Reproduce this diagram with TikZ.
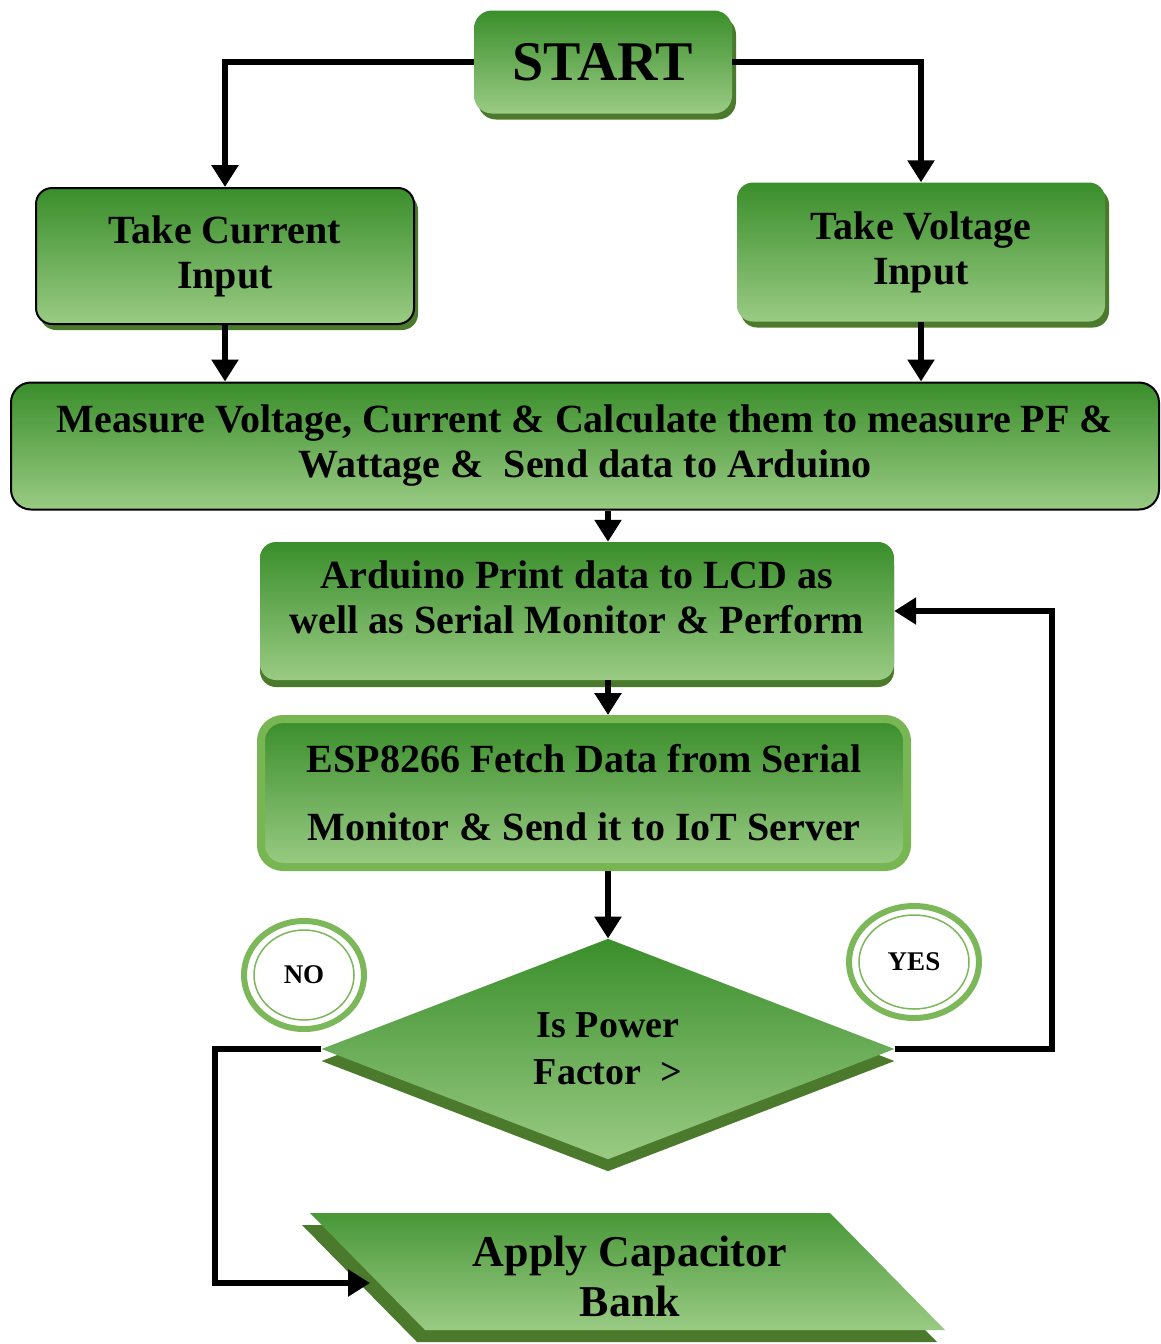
\documentclass[tikz,border=0pt]{standalone}
\usepackage{fontspec}
\setmainfont{Liberation Serif}
\usetikzlibrary{shapes.geometric,shadows,arrows.meta,calc}
\definecolor{gtop}{HTML}{3A8E2B}
\definecolor{gbot}{HTML}{9ACB84}
\definecolor{shg}{HTML}{4C7A2C}
\definecolor{espb}{HTML}{78B553}
\definecolor{ringg}{HTML}{7CB75A}
\begin{document}
\begin{tikzpicture}[x=1pt,y=-1pt,
  box/.style={rounded corners=16pt, top color=gtop, bottom color=gbot, inner sep=0pt, align=center,
    font=\bfseries\fontsize{40}{45}\selectfont},
  sh/.style={drop shadow={shadow xshift=4pt, shadow yshift=-6pt, fill=shg, opacity=1}},
  conn/.style={line width=6pt, draw=black},
  arr/.style={conn, -{Triangle[width=26pt,length=22pt]}},
  lbl/.style={ellipse, draw=ringg, line width=6pt, fill=white, inner sep=0pt,
    font=\bfseries\fontsize{27}{30}\selectfont}
]
\useasboundingbox (0,0) rectangle (1160,1344);

% nodes
\node[box, sh, minimum width=258, minimum height=103, rounded corners=18pt,
  font=\bfseries\fontsize{56}{60}\selectfont] (start) at (603,62) {START};
\node[box, sh, draw=black, line width=2pt, minimum width=378, minimum height=136] (tc) at (225,256)
  {Take Current\\Input};
\node[box, sh, minimum width=368, minimum height=139] (tv) at (921,252)
  {Take Voltage\\Input};
\node[box, draw=black, line width=2pt, minimum width=1148, minimum height=127, rounded corners=20pt] (meas) at (585,446)
  {Measure Voltage, Current \& Calculate them to measure PF \&\\Wattage \&\ \ Send data to Arduino};
\node[box, drop shadow={shadow xshift=0pt, shadow yshift=-7pt, fill=shg, opacity=1},
  minimum width=634, minimum height=138] (ard) at (577,611)
  {Arduino Print data to LCD as\\well as Serial Monitor \& Perform\\[-30pt]\strut};
\node[box, draw=espb, line width=8pt, minimum width=646, minimum height=148, rounded corners=22pt,
  font=\bfseries\fontsize{40}{68}\selectfont] (esp) at (584,793)
  {ESP8266 Fetch Data from Serial\\Monitor \& Send it to IoT Server};
\node[diamond, top color=gtop, bottom color=gbot, inner sep=0pt, minimum width=573, minimum height=214,
  drop shadow={shadow xshift=0pt, shadow yshift=-12pt, fill=shg, opacity=1},
  align=center, font=\bfseries\fontsize{38}{47}\selectfont] (dia) at (608,1049)
  {Is Power\\Factor~~\textgreater};

% parallelogram
\coordinate (p1) at (310,1213);
\coordinate (p2) at (830,1213);
\coordinate (p3) at (945,1330);
\coordinate (p4) at (425,1330);
\fill[shg] ($(p1)+(-8,12)$) -- ($(p2)+(-8,12)$) -- ($(p3)+(-8,12)$) -- ($(p4)+(-8,12)$) -- cycle;
\shade[top color=gtop!85!gbot, bottom color=gbot] (p1) -- (p2) -- (p3) -- (p4) -- cycle;
\node[align=center, font=\bfseries\fontsize{44}{50}\selectfont] (cap) at (630,1276) {Apply Capacitor\\Bank};
\coordinate (capin) at (370,1283);

% labels
\node[lbl, minimum width=120, minimum height=108] (no) at (304,975) {NO};
\draw[ringg, line width=1.5pt] (no.center) ellipse [x radius=50, y radius=45];
\node[lbl, minimum width=130, minimum height=112] (yes) at (914,962) {YES};
\draw[ringg, line width=1.5pt] (yes.center) ellipse [x radius=55, y radius=47];

% helper coordinates
\coordinate (axis) at (608,0);
\coordinate (loopc) at (1052,0);
\coordinate (noc) at (215,0);

% connectors
\draw[arr] (start.west) -| (tc.north);
\draw[arr] (start.east) -| (tv.north);
\draw[arr] (tc.south) -- (tc.south |- meas.north);
\draw[arr] (tv.south) -- (tv.south |- meas.north);
\draw[arr] (meas.south -| axis) -- (ard.north -| axis);
\draw[arr] (ard.south -| axis) -- (esp.north -| axis);
\draw[arr] (esp.south -| axis) -- (dia.north -| axis);
\draw[arr] (dia.east) -- (dia.east -| loopc) -- (ard.east -| loopc) -- (ard.east);
\draw[arr] (dia.west) -- (dia.west -| noc) -- (capin -| noc) -- (capin);
\end{tikzpicture}
\end{document}
